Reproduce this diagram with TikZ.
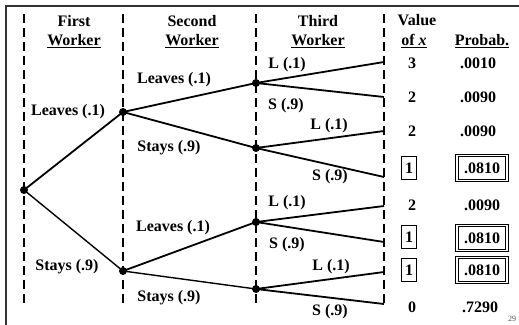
\documentclass[tikz,border=0pt]{standalone}
\usepackage{fontspec}
\setmainfont{Liberation Serif}
\begin{document}
\begin{tikzpicture}[x=1pt,y=-1pt,
  lbl/.style={font=\fontsize{16}{17}\selectfont\bfseries, inner sep=0pt},
  sep/.style={dash pattern=on 9pt off 5pt, line width=1.8pt},
  br/.style={line width=1.8pt},
  dot/.style={circle, fill, inner sep=0pt, minimum size=8pt},
  vbox/.style={lbl, draw, line width=0.8pt, minimum width=15pt, minimum height=23pt},
  pbox/.style={lbl, draw, double, double distance=1.3pt, line width=0.9pt, minimum width=50pt, minimum height=25pt}]
\useasboundingbox (0,0) rectangle (519,324);
\clip (0,0) rectangle (519,324);
% frame
\draw[line width=1.4pt, black!80] (6,330) -- (6,6) -- (525,6);
% separators
\foreach \x in {24,123,256,384} \draw[sep] (\x,14) -- (\x,306);
% headers
\node[lbl] (h1a) at (74,21) {First};
\node[lbl] (h1b) at (74,41) {\underline{Worker}};
\node[lbl] (h2a) at (192,21) {Second};
\node[lbl] (h2b) at (192,41) {\underline{Worker}};
\node[lbl] (h3a) at (318,21) {Third};
\node[lbl] (h3b) at (318,41) {\underline{Worker}};
\node[lbl] (h4a) at (417,20) {Value};
\node[lbl] (h4b) at (414,41) {\underline{of \textit{x}}};
\node[lbl] (h5) at (482,41) {\underline{Probab.}};
% tree nodes
\node[dot] (r) at (24,190) {};
\node[dot] (a) at (123,112) {};
\node[dot] (b) at (123,271) {};
\node[dot] (aa) at (256,83) {};
\node[dot] (ab) at (256,148) {};
\node[dot] (ba) at (256,222) {};
\node[dot] (bb) at (256,289) {};
% leaves
\coordinate (l1) at (384,62);
\coordinate (l2) at (384,97);
\coordinate (l3) at (384,131);
\coordinate (l4) at (384,177);
\coordinate (l5) at (384,206);
\coordinate (l6) at (384,242);
\coordinate (l7) at (384,272);
\coordinate (l8) at (384,304);
% branches
\draw[br] (r.center) -- (a.center);
\draw[br, line width=1.4pt] (r.center) -- (b.center);
\draw[br] (a.center) -- (aa.center);
\draw[br] (a.center) -- (ab.center);
\draw[br] (b.center) -- (ba.center);
\draw[br, line width=1.4pt] (b.center) -- (bb.center);
\draw[br] (aa.center) -- (l1);
\draw[br] (aa.center) -- (l2);
\draw[br] (ab.center) -- (l3);
\draw[br] (ab.center) -- (l4);
\draw[br] (ba.center) -- (l5);
\draw[br] (ba.center) -- (l6);
\draw[br] (bb.center) -- (l7);
\draw[br] (bb.center) -- (l8);
% branch labels
\node[lbl] at (68,112) {Leaves (.1)};
\node[lbl] at (67,267) {Stays (.9)};
\node[lbl] at (174,80) {Leaves (.1)};
\node[lbl] at (169,148) {Stays (.9)};
\node[lbl] at (173,228) {Leaves (.1)};
\node[lbl] at (169,298) {Stays (.9)};
\node[lbl] at (287,65) {L (.1)};
\node[lbl] at (286,106) {S (.9)};
\node[lbl] at (329,126) {L (.1)};
\node[lbl] at (330,177) {S (.9)};
\node[lbl] at (287,203) {L (.1)};
\node[lbl] at (287,245) {S (.9)};
\node[lbl] at (331,267) {L (.1)};
\node[lbl] at (330,312) {S (.9)};
% values
\node[lbl] (v1) at (412,63) {3};
\node[lbl] (v2) at (412,97) {2};
\node[lbl] (v3) at (412,131) {2};
\node[vbox] (v4) at (409,168) {1};
\node[lbl] (v5) at (412,205) {2};
\node[vbox] (v6) at (409,237) {1};
\node[vbox] (v7) at (409,270) {1};
\node[lbl] (v8) at (412,307) {0};
% probabilities
\node[lbl] (p1) at (478,63) {.0010};
\node[lbl] (p2) at (478,97) {.0090};
\node[lbl] (p3) at (478,131) {.0090};
\node[pbox] (p4) at (482,168) {.0810};
\node[lbl] (p5) at (482,205) {.0090};
\node[pbox] (p6) at (482,238) {.0810};
\node[pbox] (p7) at (482,270) {.0810};
\node[lbl] (p8) at (480,307) {.7290};
% page number fragment
\node[font=\fontsize{8}{8}\selectfont, black!70, inner sep=0pt] (pg) at (512,319) {29};
\end{tikzpicture}
\end{document}
